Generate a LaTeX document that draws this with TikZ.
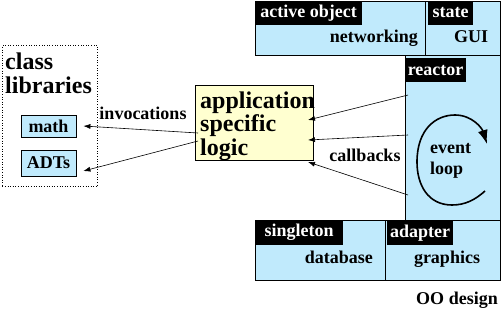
\documentclass[tikz,border=0pt]{standalone}
\usepackage{fontspec}
\setmainfont{Liberation Serif}
\usetikzlibrary{arrows.meta}
\definecolor{boxblue}{RGB}{192,234,252}
\definecolor{boxyellow}{RGB}{255,255,208}
\tikzset{
  panel/.style={draw=black, fill=boxblue, line width=0.8pt, anchor=north west, inner sep=0pt},
  tag/.style={fill=black, text=white, anchor=north west, inner sep=0pt, font=\lbl, minimum height=24pt},
  lbl/.style={font=\lbl, inner sep=0pt},
  big/.style={font=\bigtxt, inner sep=0pt, align=left},
  arr/.style={line width=0.6pt, -{Latex[length=7pt,width=5pt]}},
  loopline/.style={line width=1.6pt, -{Latex[length=14pt,width=10pt]}},
}
\newcommand{\lbl}{\bfseries\fontsize{18}{21}\selectfont}
\newcommand{\bigtxt}{\bfseries\fontsize{24}{23.5}\selectfont}
\begin{document}
\begin{tikzpicture}[x=1pt,y=-1pt]
\useasboundingbox (0,0) rectangle (501,311);
% reactor box
\node[panel, minimum width=95pt, minimum height=166pt] (reactor) at (405,54) {};
% top boxes
\node[panel, minimum width=170pt, minimum height=54pt] (net) at (255,0.5) {};
\node[panel, minimum width=75pt, minimum height=54pt] (gui) at (425,0.5) {};
% bottom boxes
\node[panel, minimum width=130pt, minimum height=60pt] (db) at (255,220) {};
\node[panel, minimum width=115pt, minimum height=60pt] (gfx) at (385,220) {};
% tags
\node[tag, minimum width=107pt] (tao) at (255,0.5) {active object};
\node[tag, minimum width=45pt] (tst) at (428,0.5) {state};
\node[tag, minimum width=60pt] (tre) at (405.4,58) {reactor};
\node[tag, minimum width=87pt] (tsi) at (255.4,220.4) {singleton};
\node[tag, minimum width=66pt] (tad) at (387,221) {adapter};
% panel texts
\node[lbl, anchor=base east] (tnet) at (418,42) {networking};
\node[lbl, anchor=base] (tgui) at (471,42) {GUI};
\node[lbl, anchor=base east] (tdb) at (373,263) {database};
\node[lbl, anchor=base] (tgfx) at (447,263) {graphics};
\node[lbl, anchor=base] (oo) at (457,304) {OO design};
% class libraries
\node[draw, dotted, line width=0.6pt, minimum width=95pt, minimum height=141pt, anchor=north west, inner sep=0pt] (lib) at (2,45) {};
\node[big, anchor=base west] (tlib) at (5,93) {\fontsize{24}{26}\selectfont class\\libraries};
\node[draw, fill=boxblue, line width=0.8pt, minimum width=55pt, minimum height=22pt, inner sep=0pt, font=\lbl] (math) at (48.5,126) {math};
\node[draw, fill=boxblue, line width=0.8pt, minimum width=55pt, minimum height=26pt, inner sep=0pt, font=\lbl] (adt) at (48.5,163) {ADTs};
% application logic
\node[draw, fill=boxyellow, line width=0.8pt, minimum width=118pt, minimum height=75pt, anchor=north west, inner sep=0pt] (app) at (195,85) {};
\node[big, anchor=base west] (tapp) at (200,155) {application\\specific\\logic};
% labels
\node[lbl] (inv) at (143,113) {invocations};
\node[lbl] (cb) at (365,155) {callbacks};
\node[lbl, align=left, anchor=base west, font=\bfseries\fontsize{18}{21}\selectfont] (ev) at (430,174) {event\\loop};
% connector end points
\coordinate (s1) at (198,133);
\coordinate (s2) at (198,141);
\coordinate (r1) at (408,95);
\coordinate (r2) at (408,135);
\coordinate (r3) at (408,195);
\coordinate (a1) at (308,120);
\coordinate (a2) at (308,140);
\coordinate (a3) at (308,162);
\draw[arr] (s1) -- ([xshift=7pt]math.east);
\draw[arr] (s2) -- ([xshift=7pt,yshift=-8pt]adt.east);
\draw[arr] (r1) -- (a1);
\draw[arr] (r2) -- (a2);
\draw[arr] (r3) -- (a3);
% event loop
\coordinate (l0) at (485,191);
\coordinate (l1) at (452,205);
\coordinate (l2) at (417,162);
\coordinate (l3) at (455,115);
\coordinate (l4) at (487,144);
\draw[loopline] (l0) .. controls (475,200) and (465,205) .. (l1)
  .. controls (428,205) and (417,185) .. (l2)
  .. controls (417,130) and (435,115) .. (l3)
  .. controls (472,115) and (482,128) .. (l4);
\end{tikzpicture}
\end{document}
